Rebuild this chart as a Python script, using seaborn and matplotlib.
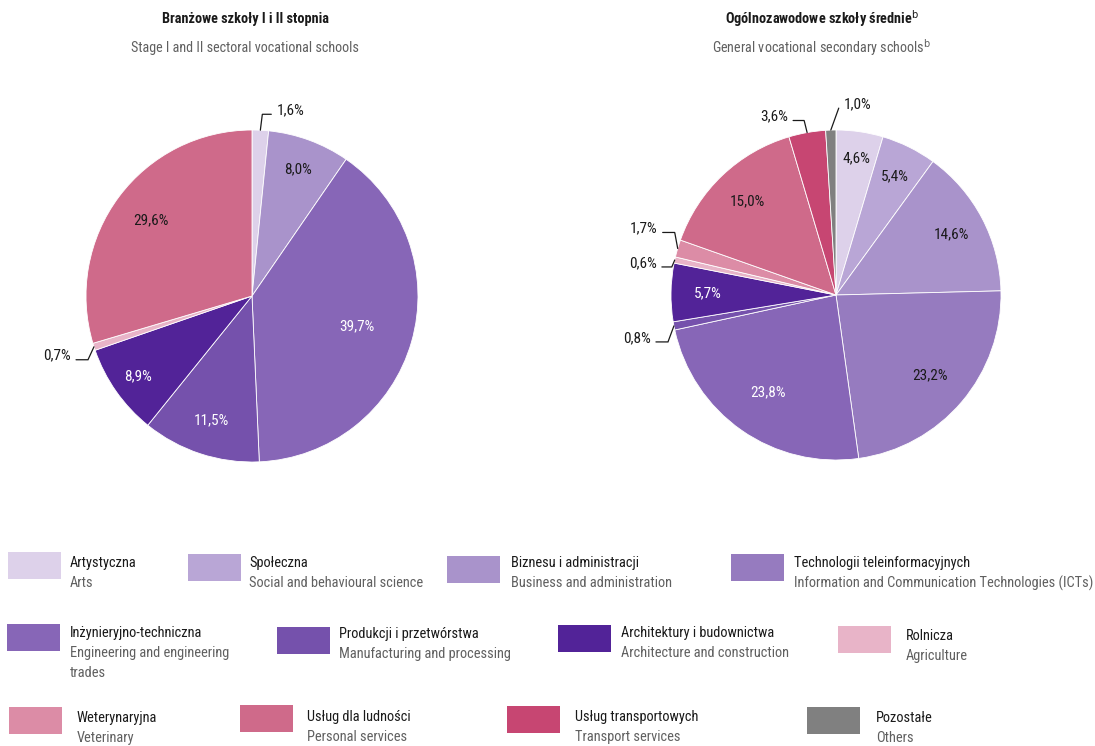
import numpy as np
import pandas as pd
import matplotlib
matplotlib.use("Agg")
import matplotlib.pyplot as plt
from matplotlib import font_manager
from matplotlib.patches import Rectangle
import seaborn as sns

# ---------------- data ----------------
categories_pl = ["Artystyczna", "Społeczna", "Biznesu i administracji",
                 "Technologii teleinformacyjnych", "Inżynieryjno-techniczna",
                 "Produkcji i przetwórstwa", "Architektury i budownictwa",
                 "Rolnicza", "Weterynaryjna", "Usług dla ludności",
                 "Usług transportowych", "Pozostałe"]
categories_en = ["Arts", "Social and behavioural science", "Business and administration",
                 "Information and Communication Technologies (ICTs)",
                 "Engineering and engineering\ntrades", "Manufacturing and processing",
                 "Architecture and construction", "Agriculture", "Veterinary",
                 "Personal services", "Transport services", "Others"]
colors = ["#ddd1ea", "#b9a6d6", "#a993cb", "#967bbf", "#8766b7", "#7551ac",
          "#522398", "#e8b4c8", "#dc8ca6", "#cf6a8a", "#c74672", "#808080"]

left_cats = ["Artystyczna", "Biznesu i administracji", "Inżynieryjno-techniczna",
             "Produkcji i przetwórstwa", "Architektury i budownictwa", "Rolnicza",
             "Usług dla ludności"]
left_vals = [1.6, 8.0, 39.7, 11.5, 8.9, 0.7, 29.6]

right_cats = ["Artystyczna", "Społeczna", "Biznesu i administracji",
              "Technologii teleinformacyjnych", "Inżynieryjno-techniczna",
              "Produkcji i przetwórstwa", "Architektury i budownictwa", "Rolnicza",
              "Weterynaryjna", "Usług dla ludności", "Usług transportowych", "Pozostałe"]
right_vals = [4.6, 5.4, 14.6, 23.2, 23.8, 0.8, 5.7, 0.6, 1.7, 15.0, 3.6, 1.0]

left_title = ("Branżowe szkoły I i II stopnia", "Stage I and II sectoral vocational schools")
right_title = ("Ogólnozawodowe szkoły średnie$^{\\mathrm{b}}$",
               "General vocational secondary schools$^{\\mathrm{b}}$")

# ---------------- style ----------------
sns.set_theme(style="white")
names = {f.name for f in font_manager.fontManager.ttflist}
fam = "DejaVu Sans"
for cand in ["Roboto Condensed", "Liberation Sans Narrow", "Open Sans Condensed",
             "Noto Sans Condensed", "Liberation Sans"]:
    if cand in names:
        fam = cand
        break
plt.rcParams["font.family"] = [fam, "DejaVu Sans"]
plt.rcParams["mathtext.default"] = "regular"

W, H = 1095, 746
fig = plt.figure(figsize=(W / 100, H / 100), dpi=100)
color_of = dict(zip(categories_pl, colors))
DARK = "#1a1a1a"
GREY = "#606060"


def fx(px):
    return px / W


def fy(py):
    return 1 - py / H


def make_pie(cx, cy, rad, cats, vals, inner, outer):
    half = 200
    ax = fig.add_axes([fx(cx - half), fy(cy + half), 2 * half / W, 2 * half / H])
    lim = half / rad
    wedges, _ = ax.pie(vals, colors=[color_of[c] for c in cats], startangle=90,
                       counterclock=False, radius=1,
                       wedgeprops=dict(linewidth=0.6, edgecolor="white"))
    ax.set_xlim(-lim, lim)
    ax.set_ylim(-lim, lim)
    ax.set_aspect("equal")
    ax.axis("off")
    for i, w in enumerate(wedges):
        mid = np.deg2rad((w.theta1 + w.theta2) / 2)
        lab = f"{vals[i]:.1f}%".replace(".", ",")
        if i in inner:
            f, tc = inner[i]
            ax.text(f * np.cos(mid), f * np.sin(mid), lab, ha="center", va="center",
                    fontsize=11, color=tc)
        else:
            kdx, kdy, hl = outer[i]
            ex, ey = np.cos(mid), np.sin(mid)
            kx, ky = ex + kdx, ey + kdy
            lx = kx + hl
            ax.plot([ex, kx, lx], [ey, ky, ky], color=DARK, lw=0.9,
                    solid_joinstyle="miter")
            side = 1 if (hl > 0 or (hl == 0 and kdx > 0)) else -1
            ax.text(lx + side * 0.03, ky + 0.025, lab, ha="left" if side > 0 else "right",
                    va="center", fontsize=11, color=DARK)
    return ax


make_pie(252, 296, 166, left_cats, left_vals,
         inner={1: (0.81, DARK), 2: (0.66, "white"), 3: (0.79, "white"),
                4: (0.84, "white"), 6: (0.76, DARK)},
         outer={0: (0.012, 0.096, 0.054), 5: (-0.036, -0.078, -0.072)})

make_pie(836, 295, 165, right_cats, right_vals,
         inner={0: (0.84, DARK), 1: (0.80, DARK), 2: (0.79, DARK),
                3: (0.75, DARK), 4: (0.72, "white"), 6: (0.78, "white"),
                9: (0.78, DARK)},
         outer={5: (-0.036, -0.097, -0.073), 7: (-0.018, -0.042, -0.06),
                8: (-0.018, 0.097, -0.073), 10: (-0.018, 0.073, -0.067),
                11: (0.048, 0.133, 0.0)})

# titles
for (t1, t2), x in [(left_title, 245), (right_title, 822)]:
    fig.text(fx(x), fy(19), t1, ha="center", va="center", fontsize=10.3,
             color=DARK, fontweight="semibold")
    fig.text(fx(x), fy(48), t2, ha="center", va="center", fontsize=10.2,
             color=GREY)

# legend (manual layout)
patch_x = [8, 188, 447, 731, 7, 277, 558, 838, 9, 240, 507, 807]
patch_y = [552, 554, 556, 554, 624, 627, 625, 626, 707, 705, 706, 707]
text_x = [70, 249, 511, 794, 70, 339, 621, 906, 77, 307, 575, 876]
text_y = [563, 563, 563, 563, 633, 634, 633, 636, 718, 717, 717, 718]
for i, cat in enumerate(categories_pl):
    fig.patches.append(Rectangle((fx(patch_x[i]), fy(patch_y[i] + 27)), 53 / W, 27 / H,
                                 transform=fig.transFigure, facecolor=color_of[cat],
                                 edgecolor="none"))
    fig.text(fx(text_x[i]), fy(text_y[i]), cat, ha="left", va="center",
             fontsize=10.4, color=DARK)
    fig.text(fx(text_x[i]), fy(text_y[i] + 13), categories_en[i], ha="left", va="top",
             fontsize=10.4, color=GREY, linespacing=1.55)

fig.savefig("out.png", dpi=100, facecolor="white")
